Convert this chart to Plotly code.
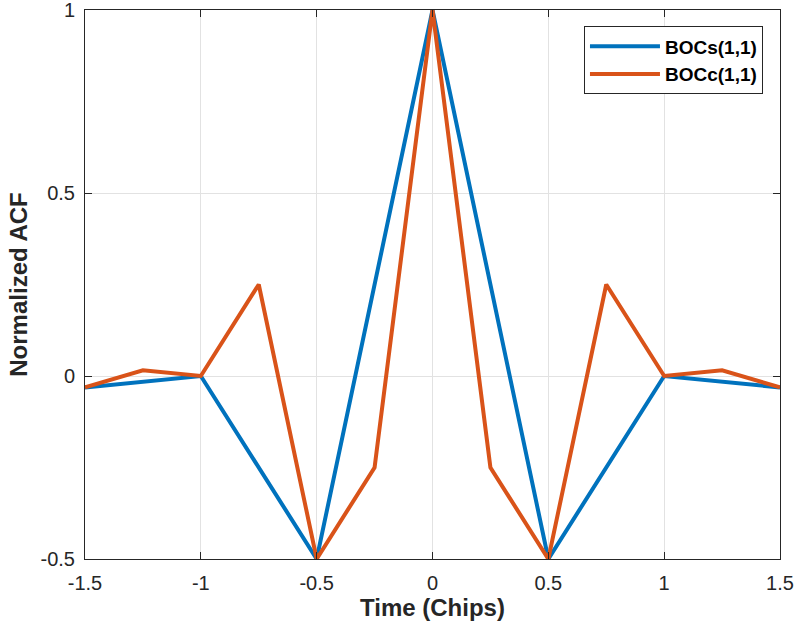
import plotly.graph_objects as go

# Autocorrelation functions of BOC(1,1) variants, sampled in chips
tau_sine = [-1.5, -1.0, -0.5, 0.0, 0.5, 1.0, 1.5]
acf_sine = [-0.03125, 0.0, -0.5, 1.0, -0.5, 0.0, -0.03125]

tau_cos = [-1.5, -1.25, -1.0, -0.75, -0.5, -0.25, 0.0, 0.25, 0.5, 0.75, 1.0, 1.25, 1.5]
acf_cos = [-0.03125, 0.015625, 0.0, 0.25, -0.5, -0.25, 1.0, -0.25, -0.5, 0.25, 0.0, 0.015625, -0.03125]

x_ticks = [-1.5, -1, -0.5, 0, 0.5, 1, 1.5]
x_tick_text = ["-1.5", "-1", "-0.5", "0", "0.5", "1", "1.5"]
y_ticks = [-0.5, 0, 0.5, 1]
y_tick_text = ["-0.5", "0", "0.5", "1"]

FONT = "Liberation Sans, Arial, Helvetica, sans-serif"
AXIS_COLOR = "#262626"

fig = go.Figure()
fig.add_trace(go.Scatter(x=tau_sine, y=acf_sine, mode="lines", name="<b>BOCs(1,1)</b>",
                         line=dict(color="#0072BD", width=4)))
fig.add_trace(go.Scatter(x=tau_cos, y=acf_cos, mode="lines", name="<b>BOCc(1,1)</b>",
                         line=dict(color="#D95319", width=4)))

axis_common = dict(
    automargin=False,
    showline=True, linecolor=AXIS_COLOR, linewidth=1, mirror="ticks",
    ticks="inside", ticklen=7, tickcolor=AXIS_COLOR, tickwidth=1,
    showgrid=True, gridcolor="#e2e2e2", gridwidth=1, zeroline=False,
    tickfont=dict(family=FONT, size=20, color="#262626"),
    ticklabeloverflow="allow",
)

fig.update_xaxes(range=[-1.5, 1.5], tickvals=x_ticks, ticktext=x_tick_text,
                 ticklabelstandoff=6,
                 title=dict(text="<b>Time (Chips)</b>", font=dict(family=FONT, size=24, color="#262626"),
                            standoff=2),
                 **axis_common)
fig.update_yaxes(range=[-0.5, 1], tickvals=y_ticks, ticktext=y_tick_text,
                 ticklabelstandoff=5,
                 title=dict(text="<b>Normalized ACF</b>", font=dict(family=FONT, size=24, color="#262626"),
                            standoff=6),
                 **axis_common)

fig.update_layout(
    width=796, height=631,
    margin=dict(l=85, r=16, t=10, b=72),
    plot_bgcolor="white", paper_bgcolor="white",
    showlegend=True,
    legend=dict(x=0.9755, y=0.97, xanchor="right", yanchor="top",
                bgcolor="white", bordercolor=AXIS_COLOR, borderwidth=1,
                font=dict(family=FONT, size=19, color="#000000"),
                tracegroupgap=0, itemwidth=70),
)

fig.write_html("out.html")
